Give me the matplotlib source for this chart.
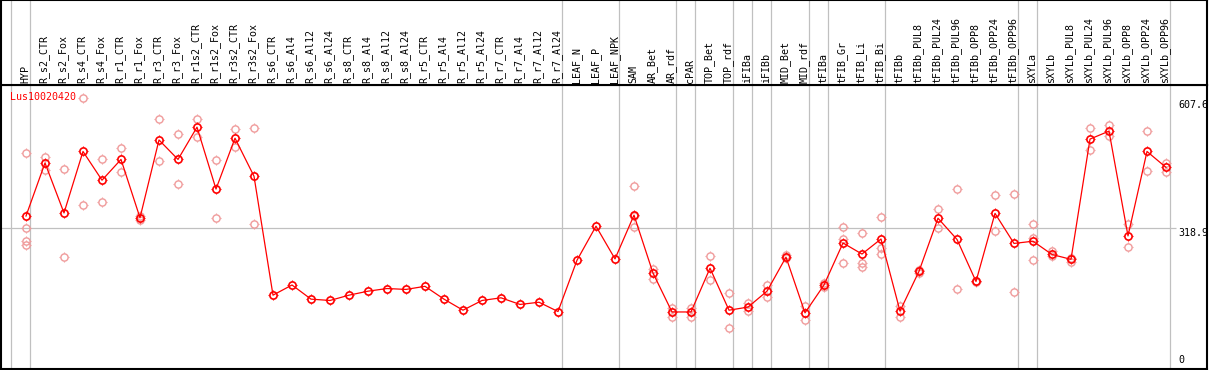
import matplotlib
matplotlib.use("Agg")
import matplotlib.pyplot as plt
from matplotlib.path import Path
import matplotlib.transforms as mtransforms

categories = ["HYP", "R_s2_CTR", "R_s2_Fox", "R_s4_CTR", "R_s4_Fox", "R_r1_CTR", "R_r1_Fox",
              "R_r3_CTR", "R_r3_Fox", "R_r1s2_CTR", "R_r1s2_Fox", "R_r3s2_CTR", "R_r3s2_Fox",
              "R_s6_CTR", "R_s6_Al4", "R_s6_Al12", "R_s6_Al24", "R_s8_CTR", "R_s8_Al4", "R_s8_Al12",
              "R_s8_Al24", "R_r5_CTR", "R_r5_Al4", "R_r5_Al12", "R_r5_Al24", "R_r7_CTR", "R_r7_Al4",
              "R_r7_Al12", "R_r7_Al24", "LEAF_N", "LEAF_P", "LEAF_NPK", "SAM", "AR_Bet", "AR_rdf",
              "cPAR", "TOP_Bet", "TOP_rdf", "iFIBa", "iFIBb", "MID_Bet", "MID_rdf", "tFIBa",
              "tFIB_Gr", "tFIB_Li", "tFIB_Bi", "tFIBb", "tFIBb_PUL8", "tFIBb_PUL24", "tFIBb_PUL96",
              "tFIBb_OPP8", "tFIBb_OPP24", "tFIBb_OPP96", "sXYLa", "sXYLb", "sXYLb_PUL8",
              "sXYLb_PUL24", "sXYLb_PUL96", "sXYLb_OPP8", "sXYLb_OPP24", "sXYLb_OPP96"]

means = [346, 466, 353, 492, 427, 474, 342, 518, 474, 547, 407, 522, 436,
         167, 190, 158, 155, 167, 176, 182, 180, 187, 158, 133, 155, 161, 146, 151, 130,
         246, 323, 249, 348, 217, 129, 129, 228, 133, 140, 176, 253, 127, 190,
         285, 260, 294, 131, 221, 341, 293, 198, 352, 284, 289, 259, 248,
         520, 538, 301, 492, 456]

replicates = [
    [488, 318, 290, 280], [480, 450], [452, 253], [613, 372], [476, 377], [499, 446],
    [345, 337], [565, 470], [531, 418], [565, 525], [472, 341], [543, 501], [544, 327],
    [], [], [], [], [], [], [], [], [], [], [], [], [], [], [], [],
    [], [], [], [413, 321, 346], [226, 204], [139, 118], [139, 118], [256, 201], [172, 93],
    [149, 132], [190, 162], [257, 252], [142, 111], [195, 186], [321, 294, 240],
    [307, 240, 231], [344, 274, 260], [142, 118], [225, 217], [363, 320], [407, 180],
    [200, 196], [393, 311], [395, 174], [328, 296, 246], [266, 255], [250, 241],
    [545, 495], [551, 527], [327, 275], [538, 447], [467, 445],
]

group_breaks = [-1, 0, 28, 31, 34, 35, 37, 38, 39, 41, 42, 45, 52, 53, 60]
gene_name = "Lus10020420"
y_max_label = 607.6
y_mid_label = 318.9

W, H = 1209, 370
fig = plt.figure(figsize=(W / 100, H / 100), dpi=100)

x_lo = (1 - 26) / 19
x_hi = (1207 - 26) / 19
px_per_unit = (369 - 228) / y_mid_label
y_top = (369 - 85) / px_per_unit

ax = fig.add_axes([1 / W, 1 / H, 1206 / W, 284 / H])
hx = fig.add_axes([1 / W, (H - 85) / H, 1206 / W, 85 / H], sharex=ax)

ax.set_xlim(x_lo, x_hi)
ax.set_ylim(0, y_top)
hx.set_ylim(0, 1)

for a in (ax, hx):
    a.set_xticks([])
    a.set_yticks([])
    for s in a.spines.values():
        s.set_color("black")
        s.set_linewidth(1.5)
    for b in group_breaks:
        a.axvline(b + 0.22, color="#c0c0c0", lw=0.9, zorder=0)

gray_end = (1176 - 26) / 19
ax.hlines(y_mid_label, x_lo, gray_end, color="#c0c0c0", lw=0.9, zorder=0)

mono = "DejaVu Sans Mono"
fs = 7.2
trans_h = mtransforms.blended_transform_factory(hx.transData, hx.transAxes)
for i, c in enumerate(categories):
    hx.text(i - 0.05, 2 / 85, c, rotation=90, ha="center", va="bottom",
            fontsize=fs, family=mono, transform=trans_h)

# tick marks around the circles
ticks = Path([(0, 1), (0, 1.45), (0, -1), (0, -1.45), (1, 0), (1.45, 0), (-1, 0), (-1.45, 0)],
             [Path.MOVETO, Path.LINETO] * 4)
circle_ms = 5.2
tick_ms = circle_ms * 1.45

xs = list(range(len(categories)))
rx, ry = [], []
for i, reps in enumerate(replicates):
    for v in reps:
        rx.append(i)
        ry.append(v)
pale = "#f09a9a"
ax.plot(rx, ry, ls="none", marker="o", ms=circle_ms, mfc="none", mec=pale, mew=1.0, zorder=2)
ax.plot(rx, ry, ls="none", marker=ticks, ms=tick_ms, mfc="none", mec=pale, mew=0.8, zorder=2)
ax.plot(xs, means, color="#ff0000", lw=0.9, zorder=3)
ax.plot(xs, means, ls="none", marker="o", ms=circle_ms, mfc="none", mec="#ff0000", mew=1.2, zorder=4)
ax.plot(xs, means, ls="none", marker=ticks, ms=tick_ms, mfc="none", mec="#ff0000", mew=0.8, zorder=4)

ax.text((10 - 26) / 19, (369 - 97) / px_per_unit, gene_name, color="#ff0000",
        fontsize=fs, family=mono, ha="left", va="center")

lab_x = (1178 - 26) / 19
ax.text(lab_x, y_max_label, f"{y_max_label}", fontsize=fs, family=mono, ha="left", va="top", clip_on=True)
ax.text(lab_x, y_mid_label, f"{y_mid_label}", fontsize=fs, family=mono, ha="left", va="top", clip_on=True)
ax.text(lab_x, 4 / px_per_unit, "0", fontsize=fs, family=mono, ha="left", va="bottom")

fig.savefig("out.png", dpi=100)
